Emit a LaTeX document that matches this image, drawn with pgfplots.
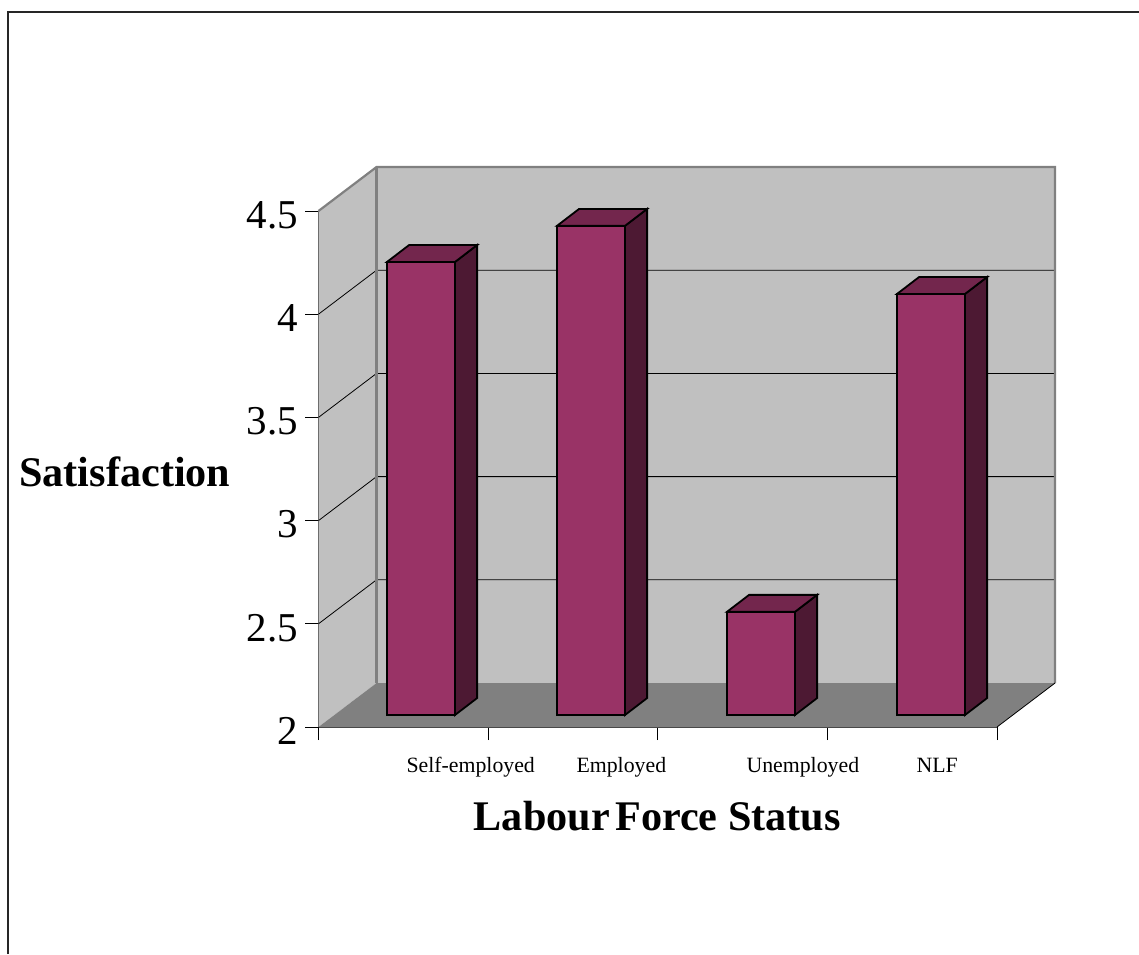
\documentclass[border=0pt]{standalone}
\usepackage{pgfplots}
\pgfplotsset{compat=1.18}
\usepackage{fontspec}
\setmainfont{Liberation Serif}
\definecolor{wall}{HTML}{C0C0C0}
\definecolor{floorc}{HTML}{808080}
\definecolor{barf}{HTML}{993366}
\definecolor{bars}{HTML}{4D1933}
\definecolor{bart}{HTML}{73264D}
\begin{document}
\begin{tikzpicture}
\path[use as bounding box] (0pt,0pt) rectangle (1139pt,954pt);
\draw[black!85,line width=1.5pt] (8pt,0pt) -- (8pt,942pt) -- (1139pt,942pt);
% frame and walls
\begin{axis}[
  at={(318.5pt,227pt)},anchor=south west,scale only axis,
  width=678.5pt,height=516pt,
  xmin=0,xmax=4,ymin=2,ymax=4.5,clip=false,
  axis x line=bottom,axis y line=left,
  axis line style={-,draw=black!75,line width=1pt},
  tick style={black,line width=0.8pt},
  tick align=outside,major tick length=13pt,
  xtick={0,1,2,3,4},xticklabels={},
  ytick={2,2.5,3,3.5,4,4.5},
  yticklabel style={font=\fontsize{41}{41}\selectfont,/pgf/number format/assume math mode=true,yshift=-4pt,xshift=-4pt},
  every axis x label/.style={at={(axis description cs:0.4993,-0.2)},anchor=base},
  every axis y label/.style={at={(axis description cs:-0.2854,0.467)},anchor=base},
  xlabel={\fontsize{42.2}{42}\selectfont\bfseries Labour\kern-0.12em\ Force Status},
  ylabel={\fontsize{42.2}{42}\selectfont\bfseries Satisfaction},
]
\addplot[fill=wall,draw=none] coordinates {(0,2)(0.342,2.213)(0.342,4.713)(0,4.5)} -- cycle;
\addplot[fill=wall,draw=none] coordinates {(0.342,2.213)(4.342,2.213)(4.342,4.713)(0.342,4.713)} -- cycle;
\addplot[fill=floorc,draw=none] coordinates {(0,2)(4,2)(4.342,2.213)(0.342,2.213)} -- cycle;
\addplot[black,line width=0.8pt] coordinates {(0,2.5)(0.342,2.713)(4.342,2.713)};
\addplot[black,line width=0.8pt] coordinates {(0,3)(0.342,3.213)(4.342,3.213)};
\addplot[black,line width=0.8pt] coordinates {(0,3.5)(0.342,3.713)(4.342,3.713)};
\addplot[black,line width=0.8pt] coordinates {(0,4)(0.342,4.213)(4.342,4.213)};
\addplot[floorc,line width=2.2pt] coordinates {(0,4.5)(0.342,4.713)(4.342,4.713)(4.342,2.213)};
\addplot[floorc,line width=2.5pt] coordinates {(0.342,2.213)(0.342,4.713)};
\addplot[black,line width=0.8pt] coordinates {(4,2)(4.342,2.213)};
\end{axis}
% bars
\begin{axis}[
  at={(336pt,239pt)},anchor=south west,scale only axis,
  width=680pt,height=516pt,
  xmin=0,xmax=4,ymin=2,ymax=4.5,clip=false,
  axis line style={draw=none},
  tick style={draw=none},major tick length=0pt,
  ytick=\empty,
  xtick={0.5,1.5,2.5,3.5},
  xticklabels={Self-employed,Employed,Unemployed,NLF},
  xticklabel style={font=\fontsize{21.8}{21.8}\selectfont,anchor=base west,xshift=-18pt,yshift=-57pt},
  ybar,bar width=68pt,
]
\addplot[fill=barf,draw=black,line width=1.8pt,bar shift=0pt] coordinates {(0.5,4.195)(1.5,4.37)(2.5,2.5)(3.5,4.04)};
\end{axis}
\begin{axis}[
  at={(336pt,239pt)},anchor=south west,scale only axis,
  width=680pt,height=516pt,
  xmin=0,xmax=4,ymin=2,ymax=4.5,clip=false,
  hide axis,
  every axis plot/.append style={draw=black,line width=1.8pt},
]
\addplot[fill=bars] coordinates {(0.7,2)(0.83,2.082)(0.83,4.277)(0.7,4.195)} -- cycle;
\addplot[fill=bart] coordinates {(0.3,4.195)(0.7,4.195)(0.83,4.277)(0.43,4.277)} -- cycle;
\addplot[fill=bars] coordinates {(1.7,2)(1.83,2.082)(1.83,4.452)(1.7,4.37)} -- cycle;
\addplot[fill=bart] coordinates {(1.3,4.37)(1.7,4.37)(1.83,4.452)(1.43,4.452)} -- cycle;
\addplot[fill=bars] coordinates {(2.7,2)(2.83,2.082)(2.83,2.582)(2.7,2.5)} -- cycle;
\addplot[fill=bart] coordinates {(2.3,2.5)(2.7,2.5)(2.83,2.582)(2.43,2.582)} -- cycle;
\addplot[fill=bars] coordinates {(3.7,2)(3.83,2.082)(3.83,4.122)(3.7,4.04)} -- cycle;
\addplot[fill=bart] coordinates {(3.3,4.04)(3.7,4.04)(3.83,4.122)(3.43,4.122)} -- cycle;
\end{axis}
\end{tikzpicture}
\end{document}
